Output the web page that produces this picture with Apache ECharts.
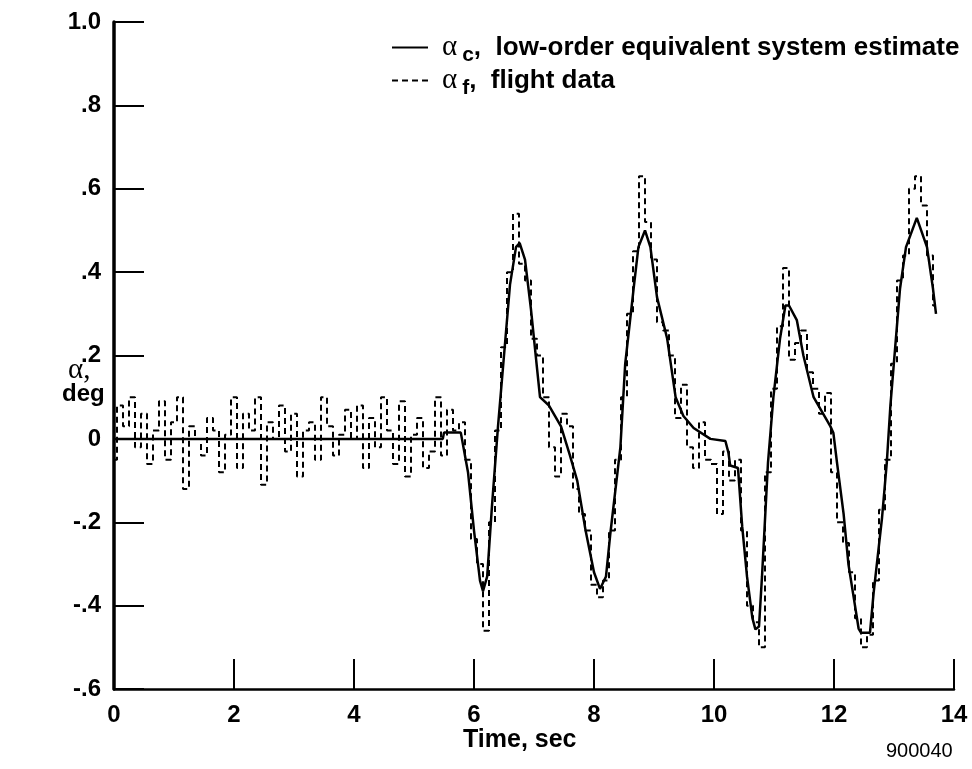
<!DOCTYPE html>
<html>
<head>
<meta charset="utf-8">
<script src="https://cdn.jsdelivr.net/npm/echarts@6/dist/echarts.min.js"></script>
<style>
html,body{margin:0;padding:0;background:#fff;}
#chart{width:972px;height:769px;}
</style>
</head>
<body>
<div id="chart"></div>
<script>
// ---- data ----
const xTicks = [0, 2, 4, 6, 8, 10, 12, 14];
const yTickLabels = {"1": "1.0", "0.8": ".8", "0.6": ".6", "0.4": ".4", "0.2": ".2", "0": "0", "-0.2": "-.2", "-0.4": "-.4", "-0.6": "-.6"};

// alpha_c, low-order equivalent system estimate (time, deg)
const timeC = [0, 5.48, 5.5, 5.78, 5.9, 6.0, 6.1, 6.15, 6.22, 6.3, 6.4, 6.5, 6.6, 6.7, 6.76, 6.85, 6.95, 7.05, 7.1, 7.25, 7.45, 7.6, 7.72, 7.86, 8.0, 8.1, 8.2, 8.27, 8.44, 8.52, 8.66, 8.74, 8.85, 8.94, 9.05, 9.22, 9.36, 9.49, 9.66, 9.94, 10.19, 10.24, 10.27, 10.4, 10.47, 10.55, 10.64, 10.69, 10.75, 10.8, 10.9, 10.99, 11.1, 11.19, 11.25, 11.38, 11.49, 11.66, 11.94, 11.99, 12.05, 12.16, 12.24, 12.35, 12.41, 12.45, 12.6, 12.66, 12.8, 12.88, 12.94, 13.02, 13.1, 13.2, 13.38, 13.55, 13.65, 13.7];
const alphaC = [0, 0, 0.015, 0.015, -0.08, -0.22, -0.34, -0.365, -0.33, -0.16, 0.03, 0.2, 0.37, 0.46, 0.47, 0.43, 0.31, 0.17, 0.1, 0.08, 0.03, -0.04, -0.1, -0.22, -0.32, -0.36, -0.33, -0.23, -0.02, 0.18, 0.36, 0.46, 0.5, 0.46, 0.34, 0.24, 0.1, 0.055, 0.026, 0, -0.005, -0.033, -0.064, -0.07, -0.21, -0.33, -0.43, -0.457, -0.45, -0.33, -0.057, 0.1, 0.24, 0.32, 0.32, 0.285, 0.2, 0.1, 0.03, 0.014, -0.057, -0.18, -0.3, -0.4, -0.455, -0.465, -0.465, -0.37, -0.19, -0.057, 0.08, 0.22, 0.36, 0.46, 0.53, 0.46, 0.36, 0.3];

// alpha_f, flight data, sampled every 0.1 s from t = 0
const flightStart = 0;
const flightStep = 0.1;
const alphaF = [
  -0.05, 0.08, 0.03, 0.10, -0.02, 0.06, -0.06, 0.02, 0.09, -0.05,
  0.04, 0.10, -0.12, 0.03, 0.00, -0.04, 0.05, 0.02, -0.08, 0.01,
  0.10, -0.07, 0.06, 0.02, 0.10, -0.11, 0.04, 0.00, 0.08, -0.03,
  0.06, -0.09, 0.02, 0.04, -0.05, 0.10, 0.03, -0.04, 0.01, 0.07,
  0.00, 0.08, -0.07, 0.05, -0.02, 0.10, 0.02, -0.06, 0.09, -0.09,
  0.01, 0.05, -0.07, -0.03, 0.10, -0.04, 0.07, 0.02, 0.04, -0.05,
  -0.24, -0.30, -0.46, -0.20, 0.02, 0.22, 0.40, 0.54, 0.42, 0.38,
  0.24, 0.20, 0.10, -0.02, -0.09, 0.06, 0.03, -0.12, -0.18, -0.22,
  -0.35, -0.38, -0.34, -0.22, -0.05, 0.10, 0.30, 0.45, 0.63, 0.52,
  0.43, 0.28, 0.26, 0.20, 0.05, 0.13, -0.02, -0.07, 0.04, -0.05,
  -0.06, -0.18, -0.03, -0.10, -0.05, -0.22, -0.40, -0.44, -0.50, -0.08,
  0.12, 0.27, 0.41, 0.19, 0.23, 0.26, 0.16, 0.12, 0.06, 0.11,
  -0.08, -0.20, -0.25, -0.32, -0.43, -0.50, -0.47, -0.34, -0.17, -0.05,
  0.18, 0.38, 0.44, 0.60, 0.63, 0.56, 0.44, 0.32
];

const seriesC = timeC.map((t, i) => [t, alphaC[i]]);
const seriesF = alphaF.map((v, i) => [+(flightStart + i * flightStep).toFixed(2), v]);

const nameC = 'c';
const nameF = 'f';

const chart = echarts.init(document.getElementById('chart'), null, {renderer: 'canvas'});
const baseFont = 'Liberation Sans, Arial, Helvetica, sans-serif';

chart.setOption({
  backgroundColor: '#ffffff',
  animation: false,
  color: ['#000', '#000'],
  grid: {left: 114, right: 18, top: 22, bottom: 80, containLabel: false},
  xAxis: {
    type: 'value', min: 0, max: 14, interval: 2,
    axisLine: {show: true, onZero: false, lineStyle: {color: '#000', width: 2.5}},
    axisTick: {show: true, inside: true, length: 30, lineStyle: {color: '#000', width: 2}},
    axisLabel: {color: '#000', fontSize: 24, fontWeight: 'bold', fontFamily: baseFont, margin: 14,
      formatter: v => String(v)},
    splitLine: {show: false}
  },
  yAxis: {
    type: 'value', min: -0.6, max: 1.0, interval: 0.2,
    axisLine: {show: true, onZero: false, lineStyle: {color: '#000', width: 3.5}},
    axisTick: {show: true, inside: true, length: 30, lineStyle: {color: '#000', width: 2}},
    axisLabel: {color: '#000', fontSize: 24, fontWeight: 'bold', fontFamily: baseFont, margin: 13,
      formatter: v => { const k = String(Math.round(v * 10) / 10); return yTickLabels[k] !== undefined ? yTickLabels[k] : k; }},
    splitLine: {show: false}
  },
  legend: {
    orient: 'vertical', left: 386, top: 24, itemGap: -4,
    itemWidth: 36, itemHeight: 16,
    data: [nameC, nameF],
    itemStyle: {opacity: 0},
    textStyle: {
      color: '#000', fontFamily: baseFont, fontWeight: 'bold', fontSize: 26,
      rich: {
        g: {fontFamily: 'Liberation Serif, DejaVu Serif, serif', fontSize: 29, fontWeight: 'normal', color: '#000', lineHeight: 30, padding: [0, 0, 0, 9], verticalAlign: 'middle'},
        s: {fontFamily: baseFont, fontSize: 21, fontWeight: 'bold', color: '#000', lineHeight: 14, padding: [16, 0, 0, 5], verticalAlign: 'middle'},
        t: {fontFamily: baseFont, fontSize: 26, fontWeight: 'bold', color: '#000', lineHeight: 30, verticalAlign: 'middle'}
      }
    },
    formatter: name => name === nameC
      ? '{g|α}{s|c}{t|,  low-order equivalent system estimate}'
      : '{g|α}{s|f}{t|,  flight data}'
  },
  graphic: [
    {type: 'text', left: 68, top: 356, style: {text: 'α,', font: 'normal 29px "Liberation Serif", serif', fill: '#000'}},
    {type: 'text', left: 62, top: 382, style: {text: 'deg', font: 'bold 24px "Liberation Sans", Arial, sans-serif', fill: '#000'}},
    {type: 'text', left: 463, top: 728, style: {text: 'Time, sec', font: 'bold 25px "Liberation Sans", Arial, sans-serif', fill: '#000'}},
    {type: 'text', left: 886, top: 741, style: {text: '900040', font: 'normal 20px "Liberation Sans", Arial, sans-serif', fill: '#000'}}
  ],
  series: [
    {
      name: nameC, type: 'line', data: seriesC, showSymbol: false, symbol: 'none',
      itemStyle: {color: '#000'},
      lineStyle: {color: '#000', width: 2.5, type: 'solid'}, z: 3
    },
    {
      name: nameF, type: 'line', data: seriesF, showSymbol: false, symbol: 'none', step: 'middle',
      itemStyle: {color: '#000'},
      lineStyle: {color: '#000', width: 2, type: [6, 4]}, z: 2
    }
  ]
});
</script>
</body>
</html>
